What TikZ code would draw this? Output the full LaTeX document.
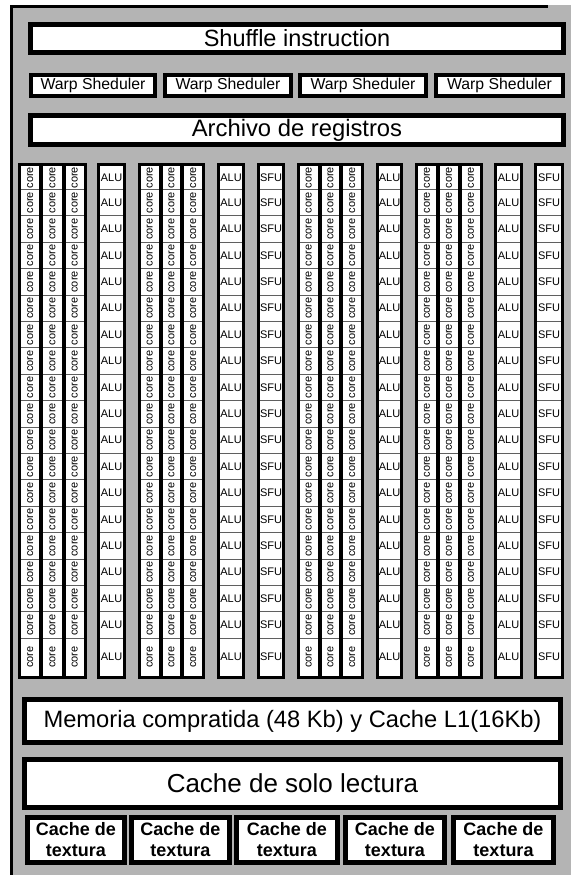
\documentclass[tikz,border=0pt]{standalone}
\usepackage{fontspec}
\setmainfont{Liberation Sans}
\definecolor{framegray}{RGB}{180,180,180}
\definecolor{sepgray}{RGB}{95,95,95}
\begin{document}
\begin{tikzpicture}[x=1pt,y=-1pt,
  sep/.style={draw=sepgray,line width=1pt},
  coretxt/.style={font=\fontsize{11}{11}\selectfont,rotate=90,inner sep=0pt},
  unittxt/.style={font=\fontsize{11}{11}\selectfont,inner sep=0pt},
  bigbox/.style={draw=black,line width=5pt,fill=white,inner sep=0pt},
  warpbox/.style={draw=black,line width=4pt,fill=white,inner sep=0pt,
    minimum height=21pt,font=\fontsize{15.8}{15.8}\selectfont},
  texbox/.style={draw=black,line width=5pt,fill=white,inner sep=0pt,
    minimum height=45pt,align=center,font=\fontsize{18}{21}\selectfont\bfseries}
]
\useasboundingbox (0,0) rectangle (571,875);
% outer frame
\fill[framegray] (12,5) rectangle (571,875);
\draw[line width=3pt] (11.5,875) -- (11.5,6.5) -- (548,6.5);

% top boxes
\node[bigbox,minimum width=533pt,minimum height=28pt,font=\fontsize{23.5}{23.5}\selectfont]
  (shuffle) at (297,38.5) {Shuffle instruction};
\node[warpbox,minimum width=124pt] (w1) at (93,85.5) {Warp Sheduler};
\node[warpbox,minimum width=126pt] (w2) at (228,85.5) {Warp Sheduler};
\node[warpbox,minimum width=126pt] (w3) at (363,85.5) {Warp Sheduler};
\node[warpbox,minimum width=127pt] (w4) at (499.5,85.5) {Warp Sheduler};
\node[bigbox,minimum width=533pt,minimum height=29pt,font=\fontsize{23.8}{23.8}\selectfont]
  (regs) at (297,130) {Archivo de registros};

% core groups
\foreach \L/\R/\g in {18/87/ga,138/205/gb,297/364/gc,415/483/gd}{
  \fill[black] (\L,163) rectangle (\R,679);
  \pgfmathsetmacro{\w}{(\R-\L-14)/3}
  \foreach \c in {0,1,2}{
    \pgfmathsetmacro{\xa}{\L+3+\c*(\w+4)}
    \pgfmathsetmacro{\xb}{\xa+\w}
    \pgfmathsetmacro{\xm}{(\xa+\xb)/2}
    \fill[white] (\xa,166) rectangle (\xb,676);
    \foreach \k in {1,...,18}{\draw[sep] (\xa,163+26.4*\k) -- (\xb,163+26.4*\k);}
    \foreach \k in {0,...,18}{
      \pgfmathsetmacro{\yc}{\k==0 ? 177.7 : (\k<18 ? 163+26.4*(\k+0.5) : 657)}
      \node[coretxt] (\g-\c-\k) at (\xm,\yc) {core};
    }
  }
}

% single columns
\foreach \L/\R/\t/\g in {97/126/ALU/ua,217/245/ALU/ub,257/285/SFU/uc,376/403/ALU/ud,494/523/ALU/ue,534/564/SFU/uf}{
  \fill[black] (\L,163) rectangle (\R,679);
  \pgfmathsetmacro{\xa}{\L+3}
  \pgfmathsetmacro{\xb}{\R-3}
  \pgfmathsetmacro{\xm}{(\xa+\xb)/2}
  \fill[white] (\xa,166) rectangle (\xb,676);
  \foreach \k in {1,...,18}{\draw[sep] (\xa,163+26.4*\k) -- (\xb,163+26.4*\k);}
  \foreach \k in {0,...,18}{
    \pgfmathsetmacro{\yc}{\k==0 ? 177.7 : (\k<18 ? 163+26.4*(\k+0.5) : 657)}
    \node[unittxt] (\g-\k) at (\xm,\yc) {\t};
  }
}

% bottom boxes
\node[bigbox,minimum width=536pt,minimum height=43pt,font=\fontsize{23.7}{23.7}\selectfont]
  (mem) at (292.5,721) {Memoria compratida (48 Kb) y Cache L1(16Kb)};
\node[bigbox,minimum width=536pt,minimum height=48pt,font=\fontsize{26}{26}\selectfont]
  (ro) at (292.5,783.5) {Cache de solo lectura};
\node[texbox,minimum width=97pt] (t1) at (76,840) {Cache de\\textura};
\node[texbox,minimum width=98pt] (t2) at (180.5,840) {Cache de\\textura};
\node[texbox,minimum width=101pt] (t3) at (287,840) {Cache de\\textura};
\node[texbox,minimum width=99pt] (t4) at (395,840) {Cache de\\textura};
\node[texbox,minimum width=100pt] (t5) at (503.5,840) {Cache de\\textura};
\end{tikzpicture}
\end{document}
